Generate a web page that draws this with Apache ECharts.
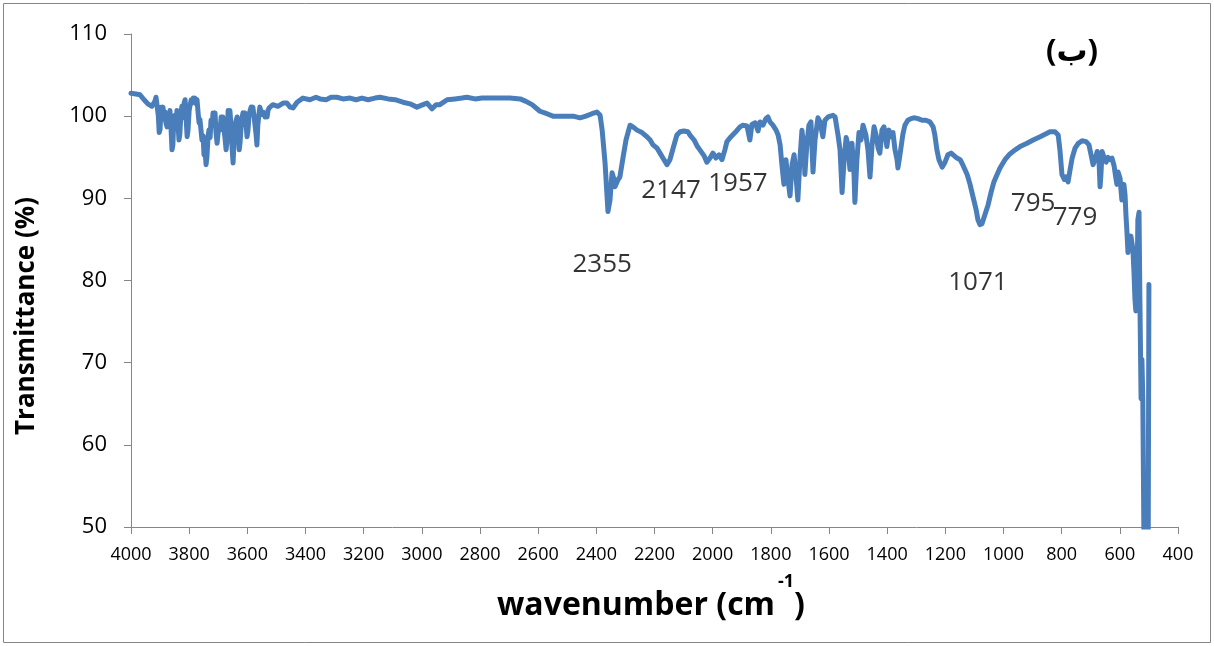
<!DOCTYPE html>
<html>
<head>
<meta charset="utf-8">
<script src="https://cdn.jsdelivr.net/npm/echarts@6/dist/echarts.min.js"></script>
<style>
html,body{margin:0;padding:0;background:#fff;}
#chart{width:1214px;height:646px;}
</style>
</head>
<body>
<div id="chart"></div>
<script>
// Wavenumber (cm-1) and transmittance (%)
const wavenumbers = [4000,3983,3969,3955,3942,
3928,3922,3918,3914,3911,3906,3903,3900,3897,3893,
3890,3886,3883,3880,3876,3873,3869,3866,3862,3859,
3856,3853,3849,3846,3842,3839,3835,3832,3828,3825,
3821,3818,3814,3811,3807,3804,3800,3797,3793,3790,
3786,3783,3780,3776,3773,3769,3766,3763,3759,3756,
3752,3749,3746,3742,3739,3735,3732,3728,3725,3721,
3718,3714,3711,3708,3704,3701,3697,3694,3690,3687,
3684,3680,3677,3673,3670,3666,3663,3660,3656,3653,
3649,3646,3642,3639,3635,3632,3628,3625,3621,3618,
3615,3611,3608,3604,3601,3598,3594,3591,3587,3584,
3581,3577,3574,3570,3567,3564,3560,3557,3553,3550,
3546,3543,3539,3536,3532,3529,3525,3522,
3512,3495,3477,3464,3453,3443,
3429,3409,3385,3364,3350,3329,3312,3292,3271,3247,
3226,3206,3185,3161,3144,3116,3092,3065,3041,3017,
2996,2982,2965,2951,2938,2913,2886,2862,2845,2817,
2793,2766,2731,2697,2662,2642,2621,2594,2570,2549,
2525,2501,2480,2456,2436,2415,2398,2387,2380,2370,
2360,2353,2346,2339,2336,2325,2319,2308,2298,2284,
2274,2260,2243,2226,2215,2205,2191,2181,2171,2157,
2147,2136,2123,2112,2099,2085,2078,2064,2054,2044,
2030,2020,2009,1999,1989,1978,1968,1958,1951,1937,
1923,1906,1896,1882,1872,1865,1854,1844,1837,1827,
1817,1810,1803,1793,1782,1775,1768,1762,1755,1748,
1741,1734,1727,1720,1714,1707,1700,1693,1686,1683,
1676,1669,1662,1655,1648,1638,1631,1621,1614,1603,
1597,1586,1579,1569,1562,1555,1548,1541,1535,1528,
1521,1514,1511,1504,1497,1490,1483,1473,1466,1459,
1452,1445,1438,1431,1425,1418,1411,1401,1394,1387,
1380,1373,1366,1363,1356,1346,1339,1329,1318,1308,
1294,1280,1267,1253,1242,1236,1229,1222,1211,1201,
1191,1180,1170,1160,1149,1139,1125,1115,1105,1094,
1088,1081,1074,1064,1053,1043,1033,1022,1012,995,
978,960,943,919,898,874,857,840,823,812,
806,799,791,785,778,771,764,754,743,730,
716,706,699,692,685,678,672,668,665,661,
654,647,641,634,627,620,613,610,606,599,
596,593,586,582,579,575,572,568,562,555,
551,548,545,541,538,534,531,527,524,521,
517,510,503,500];

const transmittance = [102.8,102.7,102.6,102.0,101.5,
101.2,101.0,101.8,102.3,101.5,100.0,98.0,98.4,101.1,100.2,
101.1,99.6,100.5,99.2,98.7,100.3,99.0,100.7,98.2,95.9,
96.5,99.5,100.1,98.6,100.7,99.4,97.1,97.8,100.5,101.2,
99.8,101.5,102.0,100.1,97.5,98.3,100.7,101.3,102.0,101.6,
102.2,101.8,102.2,101.5,102.0,100.3,99.2,99.6,98.2,97.1,
97.6,95.3,96.2,94.1,95.0,97.5,98.3,97.4,99.5,98.8,
100.4,99.0,100.4,98.1,96.7,97.8,98.9,98.3,99.9,98.6,
99.9,98.3,97.4,95.9,97.0,100.7,99.2,100.7,98.9,96.5,
94.3,96.8,98.3,99.4,99.9,98.7,95.9,96.8,98.9,99.8,
100.4,99.0,100.4,98.9,97.5,98.2,100.2,100.6,101.1,100.3,
101.1,100.0,99.8,97.8,96.5,98.9,100.2,101.1,101.1,100.2,
100.5,100.5,99.9,100.3,99.9,100.7,101.0,101.0,
101.4,101.2,101.6,101.6,101.1,101.0,
101.7,102.2,102.0,102.3,102.1,102.0,102.3,102.3,102.1,102.2,
102.0,102.2,102.0,102.2,102.3,102.1,102.0,101.7,101.5,101.1,
101.4,101.6,100.9,101.4,101.4,102.0,102.1,102.2,102.3,102.1,
102.2,102.2,102.2,102.2,102.1,101.8,101.4,100.6,100.3,100.0,
100.0,100.0,100.0,99.8,100.0,100.3,100.5,100.1,98.3,94.3,
88.4,89.8,93.1,92.3,91.4,92.3,92.6,95.0,97.1,98.9,
98.7,98.3,98.0,97.5,97.1,96.5,96.1,95.5,94.9,94.1,
94.7,96.1,97.7,98.1,98.2,98.1,97.7,97.1,96.4,95.9,
95.2,94.4,94.9,95.5,94.9,95.3,94.7,95.9,96.9,97.5,
98.0,98.7,98.9,98.8,97.1,99.0,99.2,98.2,99.3,98.9,
99.7,99.9,99.3,98.9,98.3,97.7,96.5,94.1,91.7,94.7,
92.3,90.3,94.1,95.3,92.9,89.8,94.7,98.3,95.9,92.9,
96.6,98.9,99.3,93.2,97.1,99.8,99.3,97.5,99.5,99.9,
99.8,100.1,99.9,97.7,95.9,90.7,94.7,97.4,96.5,93.5,
96.7,92.9,89.5,94.7,98.0,97.1,98.9,97.7,95.9,92.6,
96.5,98.7,97.7,96.1,95.5,98.3,98.7,96.3,98.3,97.5,
98.0,95.9,94.7,93.7,95.3,97.8,98.9,99.5,99.7,99.8,
99.7,99.5,99.5,99.3,98.7,97.7,95.9,94.7,93.8,94.4,
95.3,95.5,95.2,94.9,94.7,94.0,92.9,91.7,90.2,88.6,
87.4,86.8,86.9,88.0,89.2,90.7,92.0,92.9,93.7,94.7,
95.4,95.9,96.3,96.7,97.1,97.5,97.8,98.1,98.1,97.7,
95.9,92.9,92.3,92.6,92.0,93.5,94.9,96.1,96.7,97.0,
96.9,96.5,95.3,94.1,94.7,95.7,94.9,91.4,92.9,95.7,
94.9,94.4,95.0,94.7,94.9,94.0,92.3,91.7,93.2,92.4,
91.0,89.8,91.7,90.4,88.0,85.6,83.4,85.0,85.4,83.8,
80.7,77.7,76.3,78.9,87.4,88.3,77.7,65.6,70.4,65.6,
48,40,40,79.5];

// Peak annotations (text, and the data position where each label sits)
const peakLabels = ['2355','2147','1957','1071','795','779'];
const peakLabelX = [2380, 2143, 1913, 1088, 898, 754];
const peakLabelY = [81.9, 90.9, 91.75, 79.7, 89.4, 87.7];

const panelLabel = '(ب)';
const xTitle = 'wavenumber (cm';
const xTitleSup = '-1';
const xTitleEnd = ')';
const yTitle = 'Transmittance (%)';

const FONT = "'Open Sans', 'DejaVu Sans', sans-serif";

const lineData = wavenumbers.map((w, i) => [w, transmittance[i]]);
const labelData = peakLabels.map((t, i) => ({ name: t, value: [peakLabelX[i], peakLabelY[i]] }));

const chart = echarts.init(document.getElementById('chart'), null, { renderer: 'canvas' });
chart.setOption({
  animation: false,
  backgroundColor: '#ffffff',
  grid: { left: 131, right: 36, top: 34, bottom: 119, containLabel: false },
  xAxis: {
    type: 'value', inverse: true, min: 400, max: 4000, interval: 200,
    axisLine: { show: true, onZero: false, lineStyle: { color: '#868686', width: 1 } },
    axisTick: { show: true, inside: false, length: 7, lineStyle: { color: '#868686' } },
    axisLabel: { color: '#000', fontSize: 18, fontFamily: FONT, margin: 19, formatter: v => String(v) },
    splitLine: { show: false }
  },
  yAxis: {
    type: 'value', min: 50, max: 110, interval: 10,
    axisLine: { show: true, onZero: false, lineStyle: { color: '#868686', width: 1 } },
    axisTick: { show: true, inside: false, length: 7, lineStyle: { color: '#868686' } },
    axisLabel: { color: '#000', fontSize: 22, fontFamily: FONT, margin: 24 },
    splitLine: { show: false }
  },
  series: [
    {
      type: 'line', data: lineData, showSymbol: false, symbol: 'none', clip: true,
      lineStyle: { color: '#4a7ebb', width: 5, join: 'round', cap: 'round' },
      silent: true
    },
    {
      type: 'scatter', data: labelData, symbolSize: 0, silent: true,
      label: { show: true, position: 'inside', formatter: '{b}', fontSize: 26, fontFamily: FONT, color: '#000' }
    }
  ],
  graphic: [
    { type: 'rect', shape: { x: 3.5, y: 3.5, width: 1207, height: 639 }, style: { fill: 'none', stroke: '#868686', lineWidth: 1 }, silent: true },
    { type: 'text', x: 27, y: 316, rotation: Math.PI / 2,
      style: { text: yTitle, fontSize: 26, fontWeight: 'bold', fontFamily: FONT, fill: '#000', align: 'center', verticalAlign: 'middle' } },
    { type: 'text', x: 775, y: 606,
      style: { text: xTitle, fontSize: 32, fontWeight: 'bold', fontFamily: FONT, fill: '#000', align: 'right', verticalAlign: 'middle' } },
    { type: 'text', x: 778, y: 582,
      style: { text: xTitleSup, fontSize: 18, fontWeight: 'bold', fontFamily: FONT, fill: '#000', align: 'left', verticalAlign: 'middle' } },
    { type: 'text', x: 794, y: 606,
      style: { text: xTitleEnd, fontSize: 32, fontWeight: 'bold', fontFamily: FONT, fill: '#000', align: 'left', verticalAlign: 'middle' } },
    { type: 'text', x: 1072, y: 52,
      style: { text: panelLabel, fontSize: 31, fontWeight: 'bold', fontFamily: FONT, fill: '#000', align: 'center', verticalAlign: 'middle' } }
  ]
});
</script>
</body>
</html>
